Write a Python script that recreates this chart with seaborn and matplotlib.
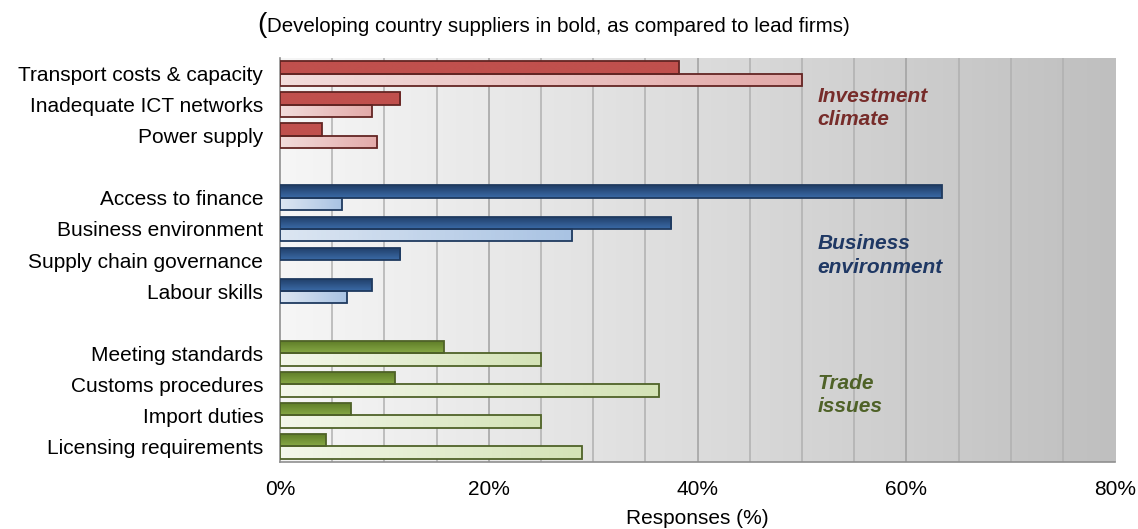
import numpy as np
import pandas as pd
import matplotlib
matplotlib.use("Agg")
import matplotlib.pyplot as plt
from matplotlib.colors import LinearSegmentedColormap
import seaborn as sns

# slots, top to bottom ("" entries are spacer rows between groups)
categories = [
    "Transport costs & capacity", "Inadequate ICT networks", "Power supply", "",
    "Access to finance", "Business environment", "Supply chain governance", "Labour skills", " ",
    "Meeting standards", "Customs procedures", "Import duties", "Licensing requirements",
]
group_of = ["inv", "inv", "inv", None, "bus", "bus", "bus", "bus", None, "trd", "trd", "trd", "trd"]
suppliers = [38.2, 11.5, 4.0, 0, 63.4, 37.5, 11.5, 8.8, 0, 15.7, 11.0, 6.8, 4.4]
lead_firms = [50.0, 8.8, 9.3, 0, 5.9, 28.0, 0, 6.4, 0, 25.0, 36.3, 25.0, 28.9]

group_names = {"inv": "Investment\nclimate", "bus": "Business\nenvironment", "trd": "Trade\nissues"}
group_rows = {"inv": 1.1, "bus": 5.85, "trd": 10.35}

# (supplier top, supplier bottom, lead left, lead right, edge, text)
palette = {
    "inv": ("#c0504d", "#c0504d", "#f2dcdb", "#e3aaa9", "#632523", "#772c2a"),
    "bus": ("#1f3d66", "#3b6aa6", "#dce6f2", "#a9c3e3", "#1f3a5f", "#1f3864"),
    "trd": ("#5c7a26", "#86a845", "#f3f7ea", "#d4e3b6", "#4f6228", "#4f6228"),
}

df = pd.DataFrame({
    "category": categories * 2,
    "value": suppliers + lead_firms,
    "role": ["Suppliers"] * len(categories) + ["Lead firms"] * len(categories),
})

sns.set_style("white")
plt.rcParams["font.family"] = ["Liberation Sans", "DejaVu Sans"]
plt.rcParams["text.color"] = "black"
plt.rcParams["xtick.color"] = "black"
plt.rcParams["ytick.color"] = "black"
plt.rcParams["axes.labelcolor"] = "black"

fig = plt.figure(figsize=(11.38, 5.29), dpi=100)
ax = fig.add_axes([0.246, 0.127, 0.734, 0.763])

sns.barplot(data=df, y="category", x="value", hue="role", order=categories,
            hue_order=["Suppliers", "Lead firms"], orient="h", dodge=True,
            width=0.8, legend=False, ax=ax, zorder=3)

ax.set_xlim(0, 80)
ax.set_ylim(len(categories) - 0.5, -0.5)

# background gradient
bg = LinearSegmentedColormap.from_list("bg", ["#f6f6f6", "#dcdcdc", "#bfbfbf"])
ax.imshow(np.linspace(0, 1, 256).reshape(1, -1), cmap=bg, aspect="auto",
          extent=(0, 80, len(categories) - 0.5, -0.5), zorder=0)
for gx in range(5, 80, 5):
    ax.axvline(gx, color="#b0b0b0" if gx % 20 else "#a0a0a0", lw=1.1, zorder=1)


def paint(patch, cmap, horizontal):
    x0, y0 = patch.get_x(), patch.get_y()
    w, h = patch.get_width(), patch.get_height()
    grad = np.linspace(0, 1, 64)
    arr = grad.reshape(1, -1) if horizontal else grad.reshape(-1, 1)
    im = ax.imshow(arr, cmap=cmap, aspect="auto", extent=(x0, x0 + w, y0 + h, y0),
                   zorder=3.5)
    im.set_clip_path(patch)


for role_idx, container in enumerate(ax.containers):
    for i, patch in enumerate(container.patches):
        g = group_of[i]
        if g is None or patch.get_width() <= 0:
            patch.set_visible(False)
            continue
        st, sb, ll, lr, edge, _ = palette[g]
        patch.set_edgecolor(edge)
        patch.set_linewidth(1.3)
        if role_idx == 0:
            paint(patch, LinearSegmentedColormap.from_list("s", [st, sb]), False)
        else:
            paint(patch, LinearSegmentedColormap.from_list("l", [ll, lr]), True)
        patch.set_zorder(4)
        patch.set_facecolor("none")

for g, row in group_rows.items():
    ax.text(51.5, row, group_names[g], color=palette[g][5], fontsize=15,
            fontweight="bold", fontstyle="italic", va="center", ha="left",
            linespacing=1.3, zorder=5)

ax.set_xticks(range(0, 81, 20))
ax.set_xticklabels([f"{v}%" for v in range(0, 81, 20)], fontsize=15)
ax.set_yticks(range(len(categories)))
ax.set_yticklabels(categories, fontsize=15)
ax.set_yticks(np.arange(-0.5, len(categories), 1), minor=True)
ax.tick_params(axis="y", which="major", length=0, pad=12)
ax.tick_params(axis="y", which="minor", length=5, color="#808080", width=1)
ax.tick_params(axis="x", which="major", length=0, pad=13)
ax.set_xlabel("Responses (%)", fontsize=15, labelpad=7)
ax.set_ylabel("")

for side, sp in ax.spines.items():
    sp.set_visible(side in ("left", "bottom"))
    sp.set_color("#909090")
    sp.set_linewidth(1.2)

fig.text(0.226, 0.953, "(", fontsize=20, va="center", ha="left")
fig.text(0.235, 0.950, "Developing country suppliers in bold, as compared to lead firms)",
         fontsize=14.8, va="center", ha="left")

fig.savefig("out.png", dpi=100)
